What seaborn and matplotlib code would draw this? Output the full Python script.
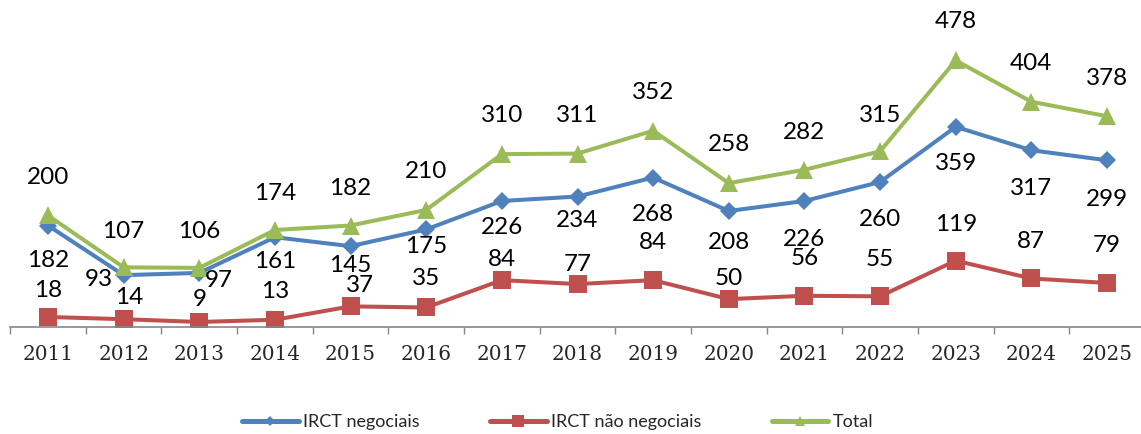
import numpy as np
import pandas as pd
import seaborn as sns
import matplotlib.pyplot as plt
from matplotlib.ticker import FixedLocator

# Data
years = [2011, 2012, 2013, 2014, 2015, 2016, 2017, 2018, 2019, 2020, 2021, 2022, 2023, 2024, 2025]
negociais = [182, 93, 97, 161, 145, 175, 226, 234, 268, 208, 226, 260, 359, 317, 299]
nao_negociais = [18, 14, 9, 13, 37, 35, 84, 77, 84, 50, 56, 55, 119, 87, 79]
total = [200, 107, 106, 174, 182, 210, 310, 311, 352, 258, 282, 315, 478, 404, 378]

df = pd.DataFrame({'Ano': years, 'neg': negociais, 'nneg': nao_negociais, 'tot': total})

# label offsets in pixels (dx, dy; dy positive = down)
neg_dx = [0, -25, 19, 0, 0, 0, 0, 0, 0, 0, 0, 0, 0, 0, 0]
neg_dy = [36, 5, 9, 25, 20, 18, 28, 25, 38, 32, 40, 38, 38, 39, 40]
nneg_dx = [0, 6, 0, 0, 9, 0, 0, 0, 0, 0, 0, 0, 0, 0, 0]
nneg_dy = [-25, -21, -21, -27, -20, -28, -20, -19, -37, -20, -36, -36, -35, -36, -36]
tot_dy = [-37, -35, -35, -35, -36, -37, -38, -37, -37, -38, -36, -35, -38, -37, -37]

blue = '#4F81BD'
red = '#C0504D'
green = '#9BBB59'

sns.set_style('white')
plt.rcParams['font.family'] = ['Lato', 'DejaVu Sans']

fig = plt.figure(figsize=(11.41, 4.34), dpi=100)
ax = fig.add_axes([10.2 / 1141, 107 / 434, 1134.6 / 1141, 278.8 / 434])

sns.lineplot(data=df, x='Ano', y='neg', ax=ax, color=blue, lw=2.9, marker='D',
             markersize=9.2, markeredgewidth=0, label='IRCT negociais')
sns.lineplot(data=df, x='Ano', y='nneg', ax=ax, color=red, lw=2.9, marker='s',
             markersize=13.5, markeredgewidth=0, label='IRCT não negociais')
sns.lineplot(data=df, x='Ano', y='tot', ax=ax, color=green, lw=2.9, marker='^',
             markersize=13, markeredgewidth=0, label='Total')

for i, y in enumerate(years):
    ax.annotate(str(negociais[i]), (y, negociais[i]), xytext=(neg_dx[i], -neg_dy[i] + 1),
                textcoords='offset pixels', ha='center', va='center', fontsize=17.5, color='black')
    ax.annotate(str(nao_negociais[i]), (y, nao_negociais[i]), xytext=(nneg_dx[i], -nneg_dy[i] + 1),
                textcoords='offset pixels', ha='center', va='center', fontsize=17.5, color='black')
    ax.annotate(str(total[i]), (y, total[i]), xytext=(0, -tot_dy[i] + 1),
                textcoords='offset pixels', ha='center', va='center', fontsize=17.5, color='black',
                annotation_clip=False)

ax.set_xlim(2010.5, 2025.5)
ax.set_ylim(0, 500)
ax.set_xticks(years)
ax.set_xticklabels([str(y) for y in years], fontfamily='DejaVu Serif', fontsize=14.4)
ax.xaxis.set_minor_locator(FixedLocator(np.arange(2010.5, 2026, 1)))
ax.tick_params(axis='x', which='major', length=0, pad=13)
ax.tick_params(axis='x', which='minor', length=5, width=1, color='#868686', direction='out')
ax.tick_params(axis='x', which='both', bottom=True)
ax.set_yticks([])
ax.set_xlabel('')
ax.set_ylabel('')
for s in ['top', 'right', 'left']:
    ax.spines[s].set_visible(False)
ax.spines['bottom'].set_color('#868686')
ax.spines['bottom'].set_linewidth(1.2)

leg = ax.legend(loc='center', bbox_to_anchor=(557.5 / 1141, 12 / 434), bbox_transform=fig.transFigure,
                ncol=3, frameon=False, fontsize=13, handlelength=3.15, handletextpad=0.22,
                columnspacing=3.9, markerscale=0.6, borderpad=0)
for h in leg.get_lines():
    h.set_linewidth(3.6)
    h.set_solid_capstyle('round')

plt.savefig('out.png', dpi=100)
